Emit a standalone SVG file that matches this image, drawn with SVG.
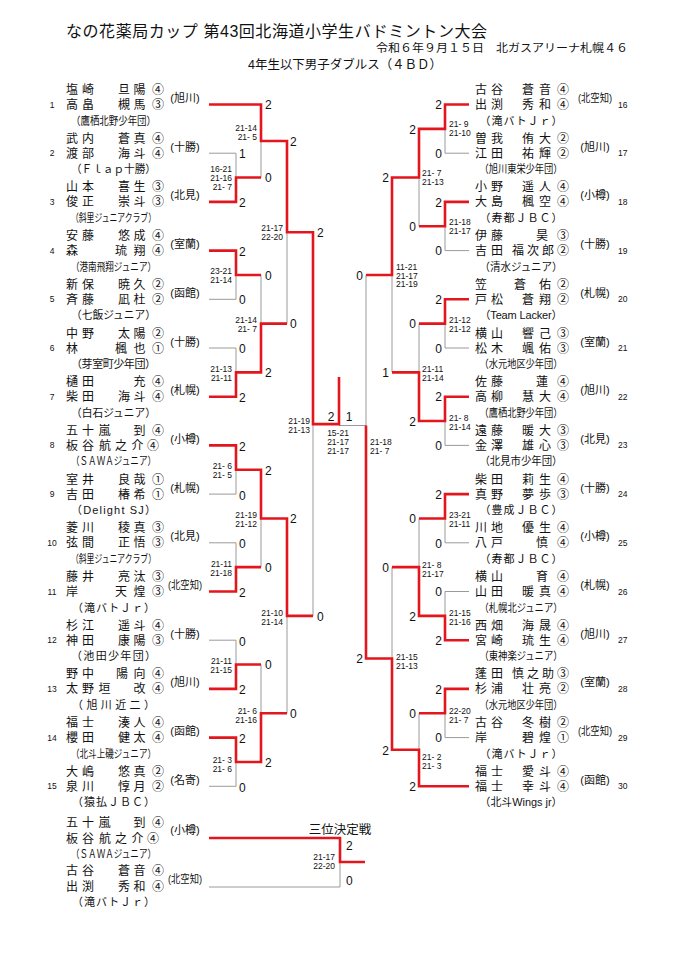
<svg xmlns="http://www.w3.org/2000/svg" width="679" height="960" viewBox="0 0 679 960">
<style>
text{dominant-baseline:central;fill:#111}
.nm{font-family:"Liberation Sans","Noto Sans CJK JP",sans-serif;font-size:12px}
.tm{font-family:"Liberation Sans","Noto Sans CJK JP",sans-serif;font-size:11px;text-anchor:middle}
.rg{font-family:"Liberation Sans","Noto Sans CJK JP",sans-serif;font-size:11px;text-anchor:middle}
.no{font-family:"Liberation Sans",sans-serif;font-size:8.5px;text-anchor:middle}
.nr{font-family:"Liberation Sans",sans-serif;font-size:8.5px}
.sc{font-family:"Liberation Sans",sans-serif;font-size:12px}
.se{font-family:"Liberation Sans",sans-serif;font-size:12px;text-anchor:end}
.sm{font-family:"Liberation Sans",sans-serif;font-size:12px;text-anchor:middle}
.ss{font-family:"Liberation Sans",sans-serif;font-size:8.5px;text-anchor:end}
.sl{font-family:"Liberation Sans",sans-serif;font-size:8.5px}
.sc2{font-family:"Liberation Sans",sans-serif;font-size:8.5px;text-anchor:middle}
.hd{font-family:"Liberation Sans","Noto Sans CJK JP",sans-serif}
.g{stroke:#9a9a9a;stroke-width:1;fill:none}
.r{stroke:#e3161d;stroke-width:2.6;fill:none;stroke-linejoin:miter}
</style>
<rect width="679" height="960" fill="#fff"/>
<g id="header">
<text class="hd" x="66" y="31" font-size="16" textLength="421" lengthAdjust="spacing">なの花薬局カップ 第43回北海道小学生バドミントン大会</text>
<text class="hd" x="376" y="48" font-size="11" textLength="252" lengthAdjust="spacingAndGlyphs">令和６年９月１５日　北ガスアリーナ札幌４６</text>
<text class="hd" x="248" y="65" font-size="12.5" textLength="194" lengthAdjust="spacingAndGlyphs">4年生以下男子ダブルス（４ＢＤ）</text>
</g>

<g id="connectors">
<path class="g" d="M209 153.2H236M209 299.3H236M209 348H236M209 494.1H236M209 542.8H236M209 640.2H236M209 786.3H236
M236 153.2V201.9M236 250.6V299.3M236 348V396.7M236 445.4V494.1M236 542.8V591.5M236 640.2V688.9M236 737.6V786.3
M261 104.5V177.55M261 274.95V372.35M261 469.75V567.15M261 664.55V761.95
M287 141V323.65M287 518.45V713.25M313 232.3V615.85
M445 153.2H469M445 250.6H469M445 348H469M445 445.4H469M445 542.8H469M445 591.5H469M445 737.6H469
M445 104.5V153.2M445 201.9V250.6M445 299.3V348M445 396.7V445.4M445 494.1V542.8M445 591.5V640.2M445 688.9V737.6
M419 128.85V226.25M419 323.65V421.05M419 518.45V615.85M419 713.25V786.3
M392 177.55V372.35M392 567.15V749.8M366 274.95V658.5
M339 425.5H366
M209 887H340V862"/>
<path class="r" d="M209 104.5H261V141H287V232.3H313V424.1H339V377"/>
<path class="r" d="M209 201.9H236V177.55H261"/>
<path class="r" d="M209 250.6H236V274.95H261"/>
<path class="r" d="M209 396.7H236V372.35H261V323.65H287"/>
<path class="r" d="M209 445.4H236V469.75H261V518.45H287V615.85H313"/>
<path class="r" d="M209 591.5H236V567.15H261"/>
<path class="r" d="M209 688.9H236V664.55H261"/>
<path class="r" d="M209 737.6H236V761.95H261V713.25H287"/>
<path class="r" d="M469 104.5H445V128.85H419V177.55H392V274.95H366"/>
<path class="r" d="M469 201.9H445V226.25H419"/>
<path class="r" d="M469 299.3H445V323.65H419"/>
<path class="r" d="M469 396.7H445V421.05H419V372.35H392"/>
<path class="r" d="M469 494.1H445V518.45H419"/>
<path class="r" d="M469 640.2H445V615.85H419V567.15H392"/>
<path class="r" d="M469 688.9H445V713.25H419"/>
<path class="r" d="M469 786.3H419V749.8H392V658.5H366V425.5"/>
<path class="r" d="M209 838H340V862H365"/>
</g>

<g id="e1"><text class="nm" x="66 82 100 118 133.5 152" y="90">塩崎　旦陽④</text><text class="nm" x="66 82 100 118 133.5 152" y="105">高畠　槻馬③</text><text class="tm" x="113.5" y="120.5" textLength="85" lengthAdjust="spacingAndGlyphs">（鷹栖北野少年団）</text><text class="rg" x="185" y="98">(旭川)</text><text class="no" x="52" y="104.5">1</text></g>
<g id="e2"><text class="nm" x="66 82 100 118 133.5 152" y="138.7">武内　蒼真④</text><text class="nm" x="66 82 100 118 133.5 152" y="153.7">渡部　海斗④</text><text class="tm" x="113.5" y="169.2" textLength="85" lengthAdjust="spacingAndGlyphs">（Ｆｌａｐ十勝）</text><text class="rg" x="185" y="146.7">(十勝)</text><text class="no" x="52" y="153.2">2</text></g>
<g id="e3"><text class="nm" x="66 82 100 118 133.5 152" y="187.4">山本　喜生③</text><text class="nm" x="66 82 100 118 133.5 152" y="202.4">俊正　崇斗③</text><text class="tm" x="113.5" y="217.9" textLength="85" lengthAdjust="spacingAndGlyphs">（斜里ジュニアクラブ）</text><text class="rg" x="185" y="195.4">(北見)</text><text class="no" x="52" y="201.9">3</text></g>
<g id="e4"><text class="nm" x="66 82 100 118 133.5 152" y="236.1">安藤　悠成④</text><text class="nm" x="66 82 100 115 133.5 152" y="251.1">森　　琉翔④</text><text class="tm" x="113.5" y="266.6" textLength="85" lengthAdjust="spacingAndGlyphs">（港南飛翔ジュニア）</text><text class="rg" x="185" y="244.1">(室蘭)</text><text class="no" x="52" y="250.6">4</text></g>
<g id="e5"><text class="nm" x="66 82 100 118 133.5 152" y="284.8">新保　暁久②</text><text class="nm" x="66 82 100 118 133.5 152" y="299.8">斉藤　凪杜②</text><text class="tm" x="113.5" y="315.3" textLength="85" lengthAdjust="spacingAndGlyphs">（七飯ジュニア）</text><text class="rg" x="185" y="292.8">(函館)</text><text class="no" x="52" y="299.3">5</text></g>
<g id="e6"><text class="nm" x="66 82 100 118 133.5 152" y="333.5">中野　太陽②</text><text class="nm" x="66 82 100 115 133.5 152" y="348.5">林　　楓也①</text><text class="tm" x="113.5" y="364" textLength="85" lengthAdjust="spacing">（芽室町少年団）</text><text class="rg" x="185" y="341.5">(十勝)</text><text class="no" x="52" y="348">6</text></g>
<g id="e7"><text class="nm" x="66 82 100 118 133.5 152" y="382.2">樋田　　充④</text><text class="nm" x="66 82 100 118 133.5 152" y="397.2">柴田　海斗④</text><text class="tm" x="113.5" y="412.7" textLength="85" lengthAdjust="spacingAndGlyphs">（白石ジュニア）</text><text class="rg" x="185" y="390.2">(札幌)</text><text class="no" x="52" y="396.7">7</text></g>
<g id="e8"><text class="nm" x="66 82 98.5 116 133.5 152" y="430.9">五十嵐　到④</text><text class="nm" x="66 82 91 99 115 131.5 147" y="445.9">板谷　航之介④</text><text class="tm" x="113.5" y="461.4" textLength="85" lengthAdjust="spacingAndGlyphs">（ＳＡＷＡジュニア）</text><text class="rg" x="185" y="438.9">(小樽)</text><text class="no" x="52" y="445.4">8</text></g>
<g id="e9"><text class="nm" x="66 82 100 118 133.5 152" y="479.6">室井　良哉①</text><text class="nm" x="66 82 100 118 133.5 152" y="494.6">吉田　椿希①</text><text class="tm" x="113.5" y="510.1" textLength="85" lengthAdjust="spacing">（Delight SJ）</text><text class="rg" x="185" y="487.6">(札幌)</text><text class="no" x="52" y="494.1">9</text></g>
<g id="e10"><text class="nm" x="66 82 100 118 133.5 152" y="528.3">菱川　稜真③</text><text class="nm" x="66 82 100 118 133.5 152" y="543.3">弦間　正悟③</text><text class="tm" x="113.5" y="558.8" textLength="85" lengthAdjust="spacingAndGlyphs">（斜里ジュニアクラブ）</text><text class="rg" x="185" y="536.3">(北見)</text><text class="no" x="52" y="542.8">10</text></g>
<g id="e11"><text class="nm" x="66 82 100 118 133.5 152" y="577">藤井　亮汰③</text><text class="nm" x="66 82 100 115 133.5 152" y="592">岸　　天煌③</text><text class="tm" x="113.5" y="607.5" textLength="83" lengthAdjust="spacing">（滝バトＪｒ）</text><text class="rg" x="185" y="585" textLength="34" lengthAdjust="spacingAndGlyphs">(北空知)</text><text class="no" x="52" y="591.5">11</text></g>
<g id="e12"><text class="nm" x="66 82 100 118 133.5 152" y="625.7">杉江　遥斗④</text><text class="nm" x="66 82 100 118 133.5 152" y="640.7">神田　康陽③</text><text class="tm" x="113.5" y="656.2" textLength="85" lengthAdjust="spacing">（池田少年団）</text><text class="rg" x="185" y="633.7">(十勝)</text><text class="no" x="52" y="640.2">12</text></g>
<g id="e13"><text class="nm" x="66 82 100 116 133.5 152" y="674.4">野中　陽向④</text><text class="nm" x="66 82 98.5 116 133.5 152" y="689.4">太野垣　改④</text><text class="tm" x="113.5" y="704.9" textLength="83" lengthAdjust="spacing">（旭川近二）</text><text class="rg" x="185" y="682.4">(旭川)</text><text class="no" x="52" y="688.9">13</text></g>
<g id="e14"><text class="nm" x="66 82 100 118 133.5 152" y="723.1">福士　湊人④</text><text class="nm" x="66 82 100 118 133.5 152" y="738.1">櫻田　健太④</text><text class="tm" x="113.5" y="753.6" textLength="85" lengthAdjust="spacingAndGlyphs">（北斗上磯ジュニア）</text><text class="rg" x="185" y="731.1">(函館)</text><text class="no" x="52" y="737.6">14</text></g>
<g id="e15"><text class="nm" x="66 82 100 118 133.5 152" y="771.8">大嶋　悠真②</text><text class="nm" x="66 82 100 118 133.5 152" y="786.8">泉川　惇月②</text><text class="tm" x="113.5" y="802.3" textLength="83" lengthAdjust="spacing">（猿払ＪＢＣ）</text><text class="rg" x="185" y="779.8">(名寄)</text><text class="no" x="52" y="786.3">15</text></g>

<g id="e16"><text class="nm" x="475 491 507 522 539 557" y="90">古谷　蒼音④</text><text class="nm" x="475 491 507 522 539 557" y="105">出渕　秀和④</text><text class="tm" x="521" y="120.5" textLength="83" lengthAdjust="spacing">（滝バトＪｒ）</text><text class="rg" x="595" y="98" textLength="34" lengthAdjust="spacingAndGlyphs">(北空知)</text><text class="nr" x="618" y="104.5">16</text></g>
<g id="e17"><text class="nm" x="475 491 507 522 539 557" y="138.7">曽我　侑大②</text><text class="nm" x="475 491 507 522 539 557" y="153.7">江田　祐輝②</text><text class="tm" x="521" y="169.2" textLength="83" lengthAdjust="spacingAndGlyphs">（旭川東栄少年団）</text><text class="rg" x="595" y="146.7">(旭川)</text><text class="nr" x="618" y="153.2">17</text></g>
<g id="e18"><text class="nm" x="475 491 507 522 539 557" y="187.4">小野　遥人④</text><text class="nm" x="475 491 507 522 539 557" y="202.4">大島　楓空④</text><text class="tm" x="521" y="217.9" textLength="83" lengthAdjust="spacing">（寿都ＪＢＣ）</text><text class="rg" x="595" y="195.4">(小樽)</text><text class="nr" x="618" y="201.9">18</text></g>
<g id="e19"><text class="nm" x="475 491 505 520 536 557" y="236.1">伊藤　　昊③</text><text class="nm" x="475 491 502 512 527 542 557" y="251.1">吉田　福次郎②</text><text class="tm" x="521" y="266.6" textLength="83" lengthAdjust="spacingAndGlyphs">（清水ジュニア）</text><text class="rg" x="595" y="244.1">(十勝)</text><text class="nr" x="618" y="250.6">19</text></g>
<g id="e20"><text class="nm" x="475 491 503 514 539 557" y="284.8">笠　　蒼佑②</text><text class="nm" x="475 491 507 522 539 557" y="299.8">戸松　蒼翔②</text><text class="tm" x="521" y="315.3" textLength="83" lengthAdjust="spacing">（Team Lacker）</text><text class="rg" x="595" y="292.8">(札幌)</text><text class="nr" x="618" y="299.3">20</text></g>
<g id="e21"><text class="nm" x="475 491 507 522 539 557" y="333.5">横山　響己③</text><text class="nm" x="475 491 507 522 539 557" y="348.5">松木　颯佑③</text><text class="tm" x="521" y="364" textLength="83" lengthAdjust="spacingAndGlyphs">（水元地区少年団）</text><text class="rg" x="595" y="341.5">(室蘭)</text><text class="nr" x="618" y="348">21</text></g>
<g id="e22"><text class="nm" x="475 491 505 520 536 557" y="382.2">佐藤　　蓮④</text><text class="nm" x="475 491 507 522 539 557" y="397.2">高柳　慧大④</text><text class="tm" x="521" y="412.7" textLength="83" lengthAdjust="spacingAndGlyphs">（鷹栖北野少年団）</text><text class="rg" x="595" y="390.2">(旭川)</text><text class="nr" x="618" y="396.7">22</text></g>
<g id="e23"><text class="nm" x="475 491 507 522 539 557" y="430.9">遠藤　暖大③</text><text class="nm" x="475 491 507 522 539 557" y="445.9">金澤　雄心③</text><text class="tm" x="521" y="461.4" textLength="83" lengthAdjust="spacingAndGlyphs">（北見市少年団）</text><text class="rg" x="595" y="438.9">(北見)</text><text class="nr" x="618" y="445.4">23</text></g>
<g id="e24"><text class="nm" x="475 491 507 522 539 557" y="479.6">柴田　莉生④</text><text class="nm" x="475 491 507 522 539 557" y="494.6">真野　夢歩③</text><text class="tm" x="521" y="510.1" textLength="83" lengthAdjust="spacing">（豊成ＪＢＣ）</text><text class="rg" x="595" y="487.6">(十勝)</text><text class="nr" x="618" y="494.1">24</text></g>
<g id="e25"><text class="nm" x="475 491 507 522 539 557" y="528.3">川地　優生④</text><text class="nm" x="475 491 505 520 536 557" y="543.3">八戸　　慎④</text><text class="tm" x="521" y="558.8" textLength="83" lengthAdjust="spacing">（寿都ＪＢＣ）</text><text class="rg" x="595" y="536.3">(小樽)</text><text class="nr" x="618" y="542.8">25</text></g>
<g id="e26"><text class="nm" x="475 491 505 520 536 557" y="577">横山　　育④</text><text class="nm" x="475 491 507 522 539 557" y="592">山田　暖真④</text><text class="tm" x="521" y="607.5" textLength="83" lengthAdjust="spacingAndGlyphs">（札幌北ジュニア）</text><text class="rg" x="595" y="585">(札幌)</text><text class="nr" x="618" y="591.5">26</text></g>
<g id="e27"><text class="nm" x="475 491 507 522 539 557" y="625.7">西畑　海晟④</text><text class="nm" x="475 491 507 522 539 557" y="640.7">宮崎　琉生④</text><text class="tm" x="521" y="656.2" textLength="83" lengthAdjust="spacingAndGlyphs">（東神楽ジュニア）</text><text class="rg" x="595" y="633.7">(旭川)</text><text class="nr" x="618" y="640.2">27</text></g>
<g id="e28"><text class="nm" x="475 491 502 512 527 542 557" y="674.4">蓬田　慎之助③</text><text class="nm" x="475 491 507 522 539 557" y="689.4">杉浦　壮亮②</text><text class="tm" x="521" y="704.9" textLength="83" lengthAdjust="spacingAndGlyphs">（水元地区少年団）</text><text class="rg" x="595" y="682.4">(室蘭)</text><text class="nr" x="618" y="688.9">28</text></g>
<g id="e29"><text class="nm" x="475 491 507 522 539 557" y="723.1">古谷　冬樹②</text><text class="nm" x="475 491 507 522 539 557" y="738.1">岸　　碧煌①</text><text class="tm" x="521" y="753.6" textLength="83" lengthAdjust="spacing">（滝バトＪｒ）</text><text class="rg" x="595" y="731.1" textLength="34" lengthAdjust="spacingAndGlyphs">(北空知)</text><text class="nr" x="618" y="737.6">29</text></g>
<g id="e30"><text class="nm" x="475 491 507 522 539 557" y="771.8">福士　愛斗④</text><text class="nm" x="475 491 507 522 539 557" y="786.8">福士　幸斗④</text><text class="tm" x="521" y="802.3" textLength="83" lengthAdjust="spacingAndGlyphs">（北斗Wings jr）</text><text class="rg" x="595" y="779.8">(函館)</text><text class="nr" x="618" y="786.3">30</text></g>

<g id="third-title"><text class="hd" x="340" y="829.5" font-size="12.5" text-anchor="middle">三位決定戦</text></g>
<g id="third-a"><text class="nm" x="66 82 98.5 116 133.5 152" y="823">五十嵐　到④</text><text class="nm" x="66 82 91 99 115 131.5 147" y="839">板谷　航之介④</text><text class="tm" x="113.5" y="853.5" textLength="85" lengthAdjust="spacingAndGlyphs">（ＳＡＷＡジュニア）</text><text class="rg" x="185" y="830">(小樽)</text></g>
<g id="third-b"><text class="nm" x="66 82 100 118 133.5 152" y="871">古谷　蒼音④</text><text class="nm" x="66 82 100 118 133.5 152" y="887">出渕　秀和④</text><text class="tm" x="113.5" y="902" textLength="83" lengthAdjust="spacing">（滝バトＪｒ）</text><text class="rg" x="185" y="879" textLength="34" lengthAdjust="spacingAndGlyphs">(北空知)</text></g>

<g id="scores">
<text class="sc" x="239" y="154.2">1</text><text class="sc" x="239" y="202.9">2</text><text class="sc" x="239" y="251.6">2</text><text class="sc" x="239" y="300.3">0</text><text class="sc" x="239" y="349">0</text><text class="sc" x="239" y="397.7">2</text><text class="sc" x="239" y="446.9">2</text><text class="sc" x="239" y="495.6">0</text><text class="sc" x="239" y="544.3">0</text><text class="sc" x="239" y="593">2</text><text class="sc" x="239" y="641.7">0</text><text class="sc" x="239" y="690.4">2</text><text class="sc" x="239" y="739.1">2</text><text class="sc" x="239" y="787.8">0</text>
<text class="sc" x="265" y="105">2</text><text class="sc" x="265" y="178.3">0</text><text class="sc" x="265" y="275.7">0</text><text class="sc" x="265" y="373.1">2</text><text class="sc" x="265" y="470.5">2</text><text class="sc" x="265" y="567.9">0</text><text class="sc" x="265" y="665.3">0</text><text class="sc" x="265" y="762.7">2</text>
<text class="sc" x="290" y="141.8">2</text><text class="sc" x="290" y="324.4">0</text><text class="sc" x="290" y="519.2">2</text><text class="sc" x="290" y="714">0</text>
<text class="sc" x="317" y="233">2</text><text class="sc" x="317" y="617">0</text>
<text class="sm" x="331" y="417">2</text><text class="sm" x="349" y="417">1</text>
<text class="se" x="442" y="105.2">2</text><text class="se" x="442" y="153.9">0</text><text class="se" x="442" y="202.6">2</text><text class="se" x="442" y="251.3">0</text><text class="se" x="442" y="300">2</text><text class="se" x="442" y="348.7">0</text><text class="se" x="442" y="397.4">2</text><text class="se" x="442" y="446.1">0</text><text class="se" x="442" y="494.8">2</text><text class="se" x="442" y="543.5">0</text><text class="se" x="442" y="592.2">0</text><text class="se" x="442" y="640.9">2</text><text class="se" x="442" y="689.6">2</text><text class="se" x="442" y="738.3">0</text>
<text class="se" x="416" y="129.6">2</text><text class="se" x="416" y="227">0</text><text class="se" x="416" y="324.4">0</text><text class="se" x="416" y="421.8">2</text><text class="se" x="416" y="519.2">0</text><text class="se" x="416" y="616.6">2</text><text class="se" x="416" y="714">0</text><text class="se" x="416" y="787">2</text>
<text class="se" x="389" y="178.3">2</text><text class="se" x="389" y="373.1">1</text><text class="se" x="389" y="567.9">0</text><text class="se" x="389" y="750.6">2</text>
<text class="se" x="363" y="275.7">0</text><text class="se" x="363" y="659.3">2</text>
<text class="sc" x="346" y="846">2</text><text class="sc" x="346" y="881">0</text>

<text class="ss" x="232" y="168.5">16-21</text><text class="ss" x="232" y="177.5">21-16</text><text class="ss" x="232" y="186.5">21- 7</text>
<text class="ss" x="232" y="270.5">23-21</text><text class="ss" x="232" y="279.5">21-14</text>
<text class="ss" x="232" y="368.5">21-13</text><text class="ss" x="232" y="377.5">21-11</text>
<text class="ss" x="232" y="465.5">21- 6</text><text class="ss" x="232" y="474.5">21- 5</text>
<text class="ss" x="232" y="564">21-11</text><text class="ss" x="232" y="573">21-18</text>
<text class="ss" x="232" y="661">21-11</text><text class="ss" x="232" y="670">21-15</text>
<text class="ss" x="232" y="759.5">21- 3</text><text class="ss" x="232" y="768.5">21- 6</text>
<text class="ss" x="257" y="128">21-14</text><text class="ss" x="257" y="137">21- 5</text>
<text class="ss" x="257" y="320">21-14</text><text class="ss" x="257" y="329">21- 7</text>
<text class="ss" x="257" y="515">21-19</text><text class="ss" x="257" y="524">21-12</text>
<text class="ss" x="257" y="710.5">21- 6</text><text class="ss" x="257" y="720">21-16</text>
<text class="ss" x="283" y="227.5">21-17</text><text class="ss" x="283" y="237">22-20</text>
<text class="ss" x="283" y="613">21-10</text><text class="ss" x="283" y="622">21-14</text>
<text class="ss" x="310" y="421">21-19</text><text class="ss" x="310" y="430">21-13</text>
<text class="sl" x="449" y="123.5">21- 9</text><text class="sl" x="449" y="132.5">21-10</text>
<text class="sl" x="449" y="222">21-18</text><text class="sl" x="449" y="230.5">21-17</text>
<text class="sl" x="449" y="320">21-12</text><text class="sl" x="449" y="328.5">21-12</text>
<text class="sl" x="449" y="418">21- 8</text><text class="sl" x="449" y="426.5">21-14</text>
<text class="sl" x="449" y="515">23-21</text><text class="sl" x="449" y="523.5">21-11</text>
<text class="sl" x="449" y="613">21-15</text><text class="sl" x="449" y="622">21-16</text>
<text class="sl" x="449" y="711">22-20</text><text class="sl" x="449" y="720">21- 7</text>
<text class="sl" x="422" y="173">21- 7</text><text class="sl" x="422" y="182">21-13</text>
<text class="sl" x="422" y="368.5">21-11</text><text class="sl" x="422" y="378">21-14</text>
<text class="sl" x="422" y="565">21- 8</text><text class="sl" x="422" y="573.5">21-17</text>
<text class="sl" x="422" y="757">21- 2</text><text class="sl" x="422" y="765.5">21- 3</text>
<text class="sl" x="396" y="267">11-21</text><text class="sl" x="396" y="275.5">21-17</text><text class="sl" x="396" y="284">21-19</text>
<text class="sl" x="396" y="657">21-15</text><text class="sl" x="396" y="665.5">21-13</text>
<text class="sl" x="370" y="442">21-18</text><text class="sl" x="370" y="451">21- 7</text>
<text class="sc2" x="338" y="433">15-21</text><text class="sc2" x="338" y="442">21-17</text><text class="sc2" x="338" y="451">21-17</text>
<text class="ss" x="335" y="857">21-17</text><text class="ss" x="335" y="866">22-20</text>
</g>
</svg>
